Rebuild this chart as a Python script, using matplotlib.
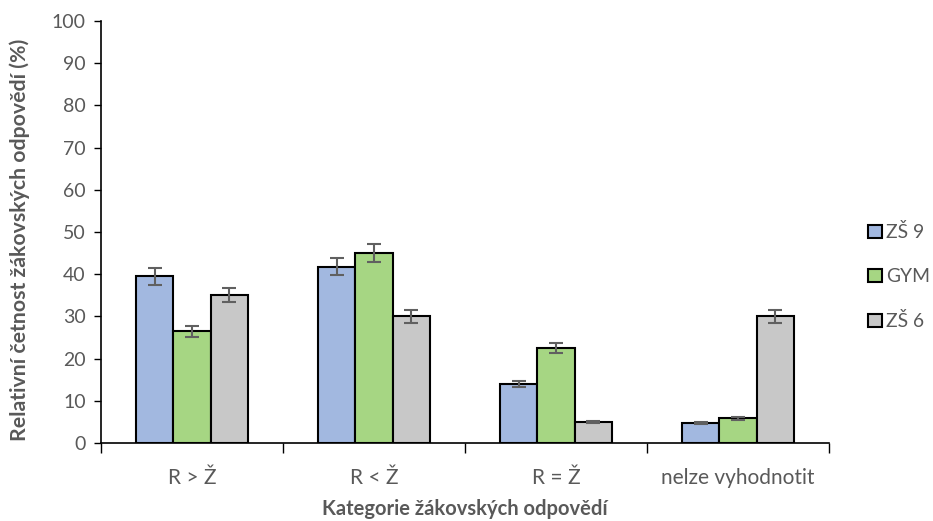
import numpy as np
import matplotlib.pyplot as plt

plt.rcParams['font.family'] = ['Lato', 'DejaVu Sans']

# kategorie a hodnoty (%)
kategorie = ["R > Ž", "R < Ž", "R = Ž", "nelze vyhodnotit"]
skupiny = ["ZŠ 9", "GYM", "ZŠ 6"]
zs9 = [39.5, 41.8, 14.0, 4.7]
gym = [26.5, 45.0, 22.5, 5.9]
zs6 = [35.0, 30.0, 5.0, 30.0]
zs9_err = [2.0, 2.1, 0.8, 0.3]
gym_err = [1.3, 2.2, 1.1, 0.35]
zs6_err = [1.7, 1.5, 0.3, 1.5]

barvy = ["#A2B8E0", "#A6D683", "#C8C8C8"]
sedy_text = "#595959"

fig = plt.figure(figsize=(9.33, 5.21), dpi=100)
ax = fig.add_axes([101 / 933, 1 - 443 / 521, 728 / 933, 422 / 521])

x = np.arange(len(kategorie))
sirka = 0.206
for i, (hodnoty, chyby) in enumerate(zip([zs9, gym, zs6], [zs9_err, gym_err, zs6_err])):
    pozice = x + (i - 1) * sirka
    ax.bar(pozice, hodnoty, width=sirka, color=barvy[i], edgecolor="black",
           linewidth=1.5, label=skupiny[i], zorder=2)
    ax.errorbar(pozice, hodnoty, yerr=chyby, fmt="none", ecolor="#606060",
                elinewidth=1.5, capsize=5, capthick=1.5, zorder=3)

ax.set_xlim(-0.5, len(kategorie) - 0.5)
ax.set_ylim(0, 100)
ax.set_yticks(range(0, 101, 10))

# značky os na hranicích kategorií, popisky kategorií uprostřed
ax.set_xticks(np.arange(-0.5, len(kategorie), 1.0))
ax.set_xticklabels([])
ax.set_xticks(x, minor=True)
ax.set_xticklabels(kategorie, minor=True, fontsize=15, color=sedy_text)
ax.tick_params(axis="x", which="major", length=7, width=1, color="black", direction="out")
ax.tick_params(axis="x", which="minor", length=0, pad=18)
ax.tick_params(axis="y", length=5, width=1, color="black", direction="out",
               labelsize=14, labelcolor=sedy_text, pad=6)

for s in ["top", "right"]:
    ax.spines[s].set_visible(False)
for s in ["left", "bottom"]:
    ax.spines[s].set_linewidth(1.2)
    ax.spines[s].set_color("black")

ax.set_xlabel("Kategorie žákovských odpovědí", fontsize=14.5, fontweight="bold",
              color=sedy_text, labelpad=8)
ax.set_ylabel("Relativní četnost žákovských odpovědí (%)", fontsize=15.3,
              fontweight="bold", color=sedy_text)
ax.yaxis.set_label_coords(-0.098, 0.481)

ax.legend(loc="center left", bbox_to_anchor=(1.054, 0.394), frameon=False,
          borderaxespad=0, borderpad=0,
          fontsize=13.9, labelcolor=sedy_text, handlelength=0.7, handleheight=0.7,
          handletextpad=0.2, labelspacing=1.4)

fig.savefig("out.png", dpi=100)
